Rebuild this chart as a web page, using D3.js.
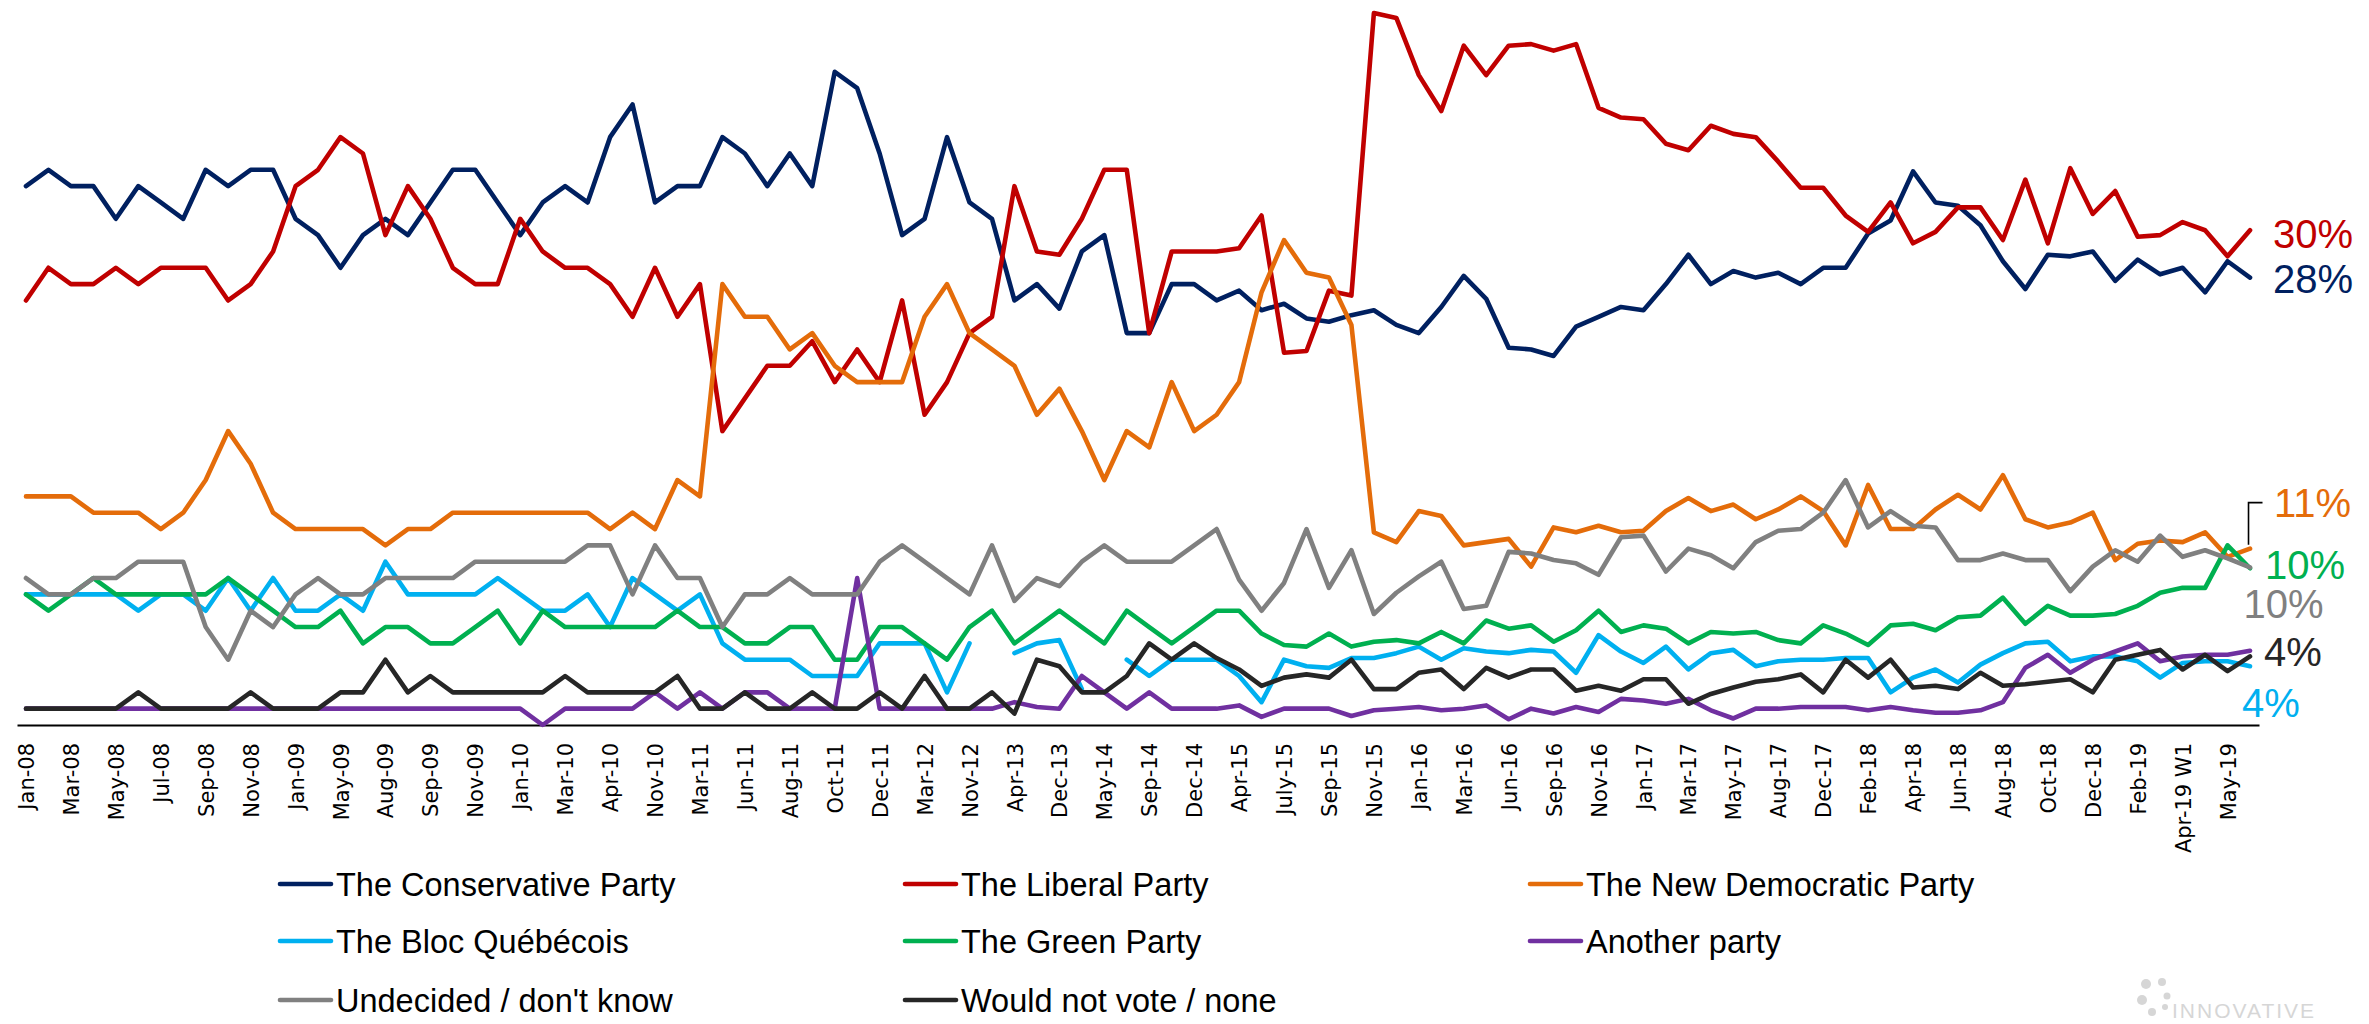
<!DOCTYPE html>
<html>
<head>
<meta charset="utf-8">
<script src="https://cdn.jsdelivr.net/npm/d3@7"></script>
<style>
  html, body { margin: 0; padding: 0; background: #ffffff; }
  svg { display: block; }
</style>
</head>
<body>
<svg id="chart" width="2369" height="1024"></svg>
<script>
// ---------- DATA ----------
const tickLabels = ["Jan-08","Mar-08","May-08","Jul-08","Sep-08","Nov-08","Jan-09","May-09","Aug-09","Sep-09",
  "Nov-09","Jan-10","Mar-10","Apr-10","Nov-10","Mar-11","Jun-11","Aug-11","Oct-11","Dec-11",
  "Mar-12","Nov-12","Apr-13","Dec-13","May-14","Sep-14","Dec-14","Apr-15","July-15","Sep-15",
  "Nov-15","Jan-16","Mar-16","Jun-16","Sep-16","Nov-16","Jan-17","Mar-17","May-17","Aug-17",
  "Dec-17","Feb-18","Apr-18","Jun-18","Aug-18","Oct-18","Dec-18","Feb-19","Apr-19 W1","May-19"];
// 100 survey waves; only every second one carries a visible label
const categories = d3.range(100).map(i => i % 2 === 0 ? tickLabels[i / 2] : "");

const conservative = [33,34,33,33,31,33,32,31,34,33,34,34,31,30,28,30,31,30,32,34,34,32,30,32,33,32,36,38,32,33,
  33,36,35,33,35,33,40,39,35,30,31,36,32,31,26,27,25.5,29,30,24,24,27,27,26,26.6,25.4,25.8,24.9,24.7,25.1,
  25.4,24.5,24,25.6,27.5,26.1,23.1,23,22.6,24.4,25,25.6,25.4,27,28.8,27,27.8,27.4,27.7,27,
  28,28,30.1,30.9,33.9,32,31.8,30.6,28.4,26.7,28.8,28.7,29,27.2,28.5,27.6,28,26.5,28.4,27.4];
const liberal = [26,28,27,27,28,27,28,28,28,26,27,29,33,34,36,35,30,33,31,28,27,27,31,29,28,28,27,25,28,25,
  27,18,20,22,22,23.5,21,23,21,26,19,21,24,25,33,29,28.8,31,34,34,24,29,29,29,29.2,31.2,22.8,22.9,26.6,26.3,
  43.6,43.3,39.8,37.6,41.6,39.8,41.6,41.7,41.3,41.7,37.8,37.2,37.1,35.6,35.2,36.7,36.2,36,34.5,32.9,
  32.9,31.2,30.2,32,29.5,30.2,31.7,31.7,29.7,33.4,29.5,34.1,31.3,32.7,29.9,30,30.8,30.3,28.7,30.3];
const ndp = [14,14,14,13,13,13,12,13,15,18,16,13,12,12,12,12,11,12,12,13,13,13,13,13,13,13,12,13,12,15,
  14,27,25,25,23,24,22,21,21,21,25,27,24,23,22,19,20.6,18,15,18,17,21,18,19,21,26.5,29.7,27.7,27.4,24.5,
  11.8,11.2,13.1,12.8,11,11.2,11.4,9.7,12.1,11.8,12.2,11.8,11.9,13.1,13.9,13.1,13.5,12.6,13.2,14,
  13.1,11,14.7,12,12,13.2,14.1,13.2,15.3,12.6,12.1,12.4,13,10.1,11.1,11.3,11.2,11.8,10.3,10.8];
const bloc = [8,8,8,8,8,7,8,8,7,9,7,9,7,7,8,7,10,8,8,8,8,9,8,7,7,8,6,9,8,7,
  8,5,4,4,4,3,3,3,5,5,5,2,5,null,4.4,5,5.2,2.2,null,4,3,4,4,4,3,1.4,4,3.6,3.5,4.1,
  4.1,4.4,4.8,4,4.7,4.5,4.4,4.6,4.5,3.2,5.5,4.5,3.8,4.8,3.4,4.4,4.6,3.6,3.9,4,
  4,4.1,4.1,2,2.9,3.4,2.6,3.7,4.4,5,5.1,3.9,4.2,4.2,3.9,2.9,3.8,3.9,3.9,3.6];
const green = [8,7,8,9,8,8,8,8,8,9,8,7,6,6,7,5,6,6,5,5,6,7,5,7,6,6,6,6,6,7,
  6,6,5,5,6,6,4,4,6,6,5,4,6,7,5,6,7,6,5,7,6,5,6,7,7,5.6,4.9,4.8,5.6,4.8,
  5.1,5.2,5,5.7,5,6.4,5.9,6.1,5.1,5.8,7,5.7,6.1,5.9,5,5.7,5.6,5.7,5.2,5,
  6.1,5.6,4.9,6.1,6.2,5.8,6.6,6.7,7.8,6.2,7.3,6.7,6.7,6.8,7.3,8.1,8.4,8.4,11,9.6];
const anotherParty = [1,1,1,1,1,1,1,1,1,1,1,1,1,1,1,1,1,1,1,1,1,1,1,0,1,1,1,1,2,1,
  2,1,2,2,1,1,1,9,1,1,1,1,1,1,1.4,1.1,1,3,2,1,2,1,1,1,1.2,0.5,1,1,1,0.55,
  0.9,1,1.1,0.9,1,1.2,0.35,1,0.7,1.1,0.8,1.6,1.5,1.3,1.6,0.9,0.4,1,1,1.1,
  1.1,1.1,0.9,1.1,0.9,0.75,0.75,0.9,1.4,3.5,4.3,3.2,4,4.5,5,3.9,4.2,4.3,4.3,4.55];
const undecided = [9,8,8,9,9,10,10,10,6,4,7,6,8,9,8,8,9,9,9,9,10,10,10,10,10,11,11,8,11,9,
  9,6,8,8,9,8,8,8,10,11,10,9,8,11,7.6,9,8.5,10,11,10,10,10,11,12,8.9,7,8.7,12,8.4,10.7,
  6.8,8.1,9.1,10,7.1,7.3,10.6,10.5,10.1,9.9,9.2,11.5,11.6,9.4,10.8,10.4,9.6,11.2,11.9,12,
  13,15,12.1,13.1,12.2,12.1,10.1,10.1,10.5,10.1,10.1,8.2,9.7,10.7,10,11.6,10.3,10.7,10.2,9.65];
const wouldNotVote = [1,1,1,1,1,2,1,1,1,1,2,1,1,1,2,2,4,2,3,2,2,2,2,2,3,2,2,2,2,3,
  1,1,2,1,1,2,1,1,2,1,3,1,1,2,0.7,4,3.6,2,2,3,5,4,5,4.1,3.4,2.4,2.9,3.1,2.9,4,
  2.2,2.2,3.2,3.4,2.2,3.5,2.9,3.4,3.4,2.1,2.4,2.1,2.8,2.8,1.3,1.9,2.3,2.65,2.8,3.1,
  2,4,2.9,4,2.3,2.4,2.2,3.2,2.4,2.5,2.65,2.8,2,4,4.3,4.6,3.4,4.3,3.3,4.2];

const seriesNames = ["The Conservative Party","The Liberal Party","The New Democratic Party",
  "The Bloc Québécois","The Green Party","Another party","Undecided / don't know","Would not vote / none"];
const seriesValues = [conservative, liberal, ndp, bloc, green, anotherParty, undecided, wouldNotVote];
const seriesColors = ["#002060","#C00000","#E46C0A","#00B0F0","#00B050","#7030A0","#808080","#262626"];
const endLabels = ["28%","30%","11%","4%","10%",null,"10%","4%"];

// ---------- LAYOUT ----------
const svg = d3.select("#chart");
const axisY = 725;
const x = d3.scalePoint().domain(d3.range(categories.length)).range([17, 2259]).padding(0.4);
const y = d3.scaleLinear().domain([0, 44.4]).range([axisY, 0]);

// Axis
const axis = d3.axisBottom(x)
  .tickValues(d3.range(0, categories.length, 2))
  .tickFormat(i => categories[i])
  .tickSize(0).tickSizeOuter(0);
const gAxis = svg.append("g").attr("transform", `translate(0,${axisY})`).call(axis);
gAxis.select(".domain").attr("stroke", "#000").attr("stroke-width", 2.2);
gAxis.selectAll(".tick text")
  .attr("transform", "rotate(-90)")
  .attr("x", -18).attr("y", 0).attr("dy", "0.36em")
  .attr("text-anchor", "end")
  .style("font-family", "'DejaVu Sans', sans-serif")
  .style("font-size", "21px")
  .attr("fill", "#000");

// Lines
const line = d3.line()
  .defined(d => d.v !== null && d.v !== undefined)
  .x(d => x(d.i)).y(d => y(d.v));

seriesValues.forEach((vals, s) => {
  svg.append("path")
    .datum(vals.map((v, i) => ({ i, v })))
    .attr("fill", "none")
    .attr("stroke", seriesColors[s])
    .attr("stroke-width", 4.6)
    .attr("stroke-linejoin", "round")
    .attr("stroke-linecap", "round")
    .attr("d", line);
});

// End labels (layout offsets relative to each series' last point)
const lastI = categories.length - 1;
const labelLayout = [
  { dx: 23, dy: 15 },    // Conservative
  { dx: 23, dy: 17.5 },  // Liberal
  { dx: 24, dy: -31.5 }, // NDP (with leader)
  { dx: -8, dy: 51 },    // Bloc
  { dx: 15, dy: 11 },    // Green
  null,
  { dx: -6.5, dy: 50.5 },// Undecided
  { dx: 14, dy: 9.6 }    // Would not vote
];
seriesValues.forEach((vals, s) => {
  if (!endLabels[s]) return;
  const lx = x(lastI), ly = y(vals[lastI]);
  const o = labelLayout[s];
  svg.append("text")
    .attr("x", lx + o.dx).attr("y", ly + o.dy)
    .style("font-family", "'Liberation Sans', Arial, sans-serif")
    .style("font-size", "40px")
    .attr("fill", seriesColors[s])
    .text(endLabels[s]);
});
// leader line for NDP label
{
  const lx = x(lastI) - 1.5, ly = y(ndp[lastI]);
  svg.append("path")
    .attr("d", `M${lx},${ly - 4}V${ly - 46}H${lx + 14}`)
    .attr("fill", "none").attr("stroke", "#000").attr("stroke-width", 1.6);
}

// Legend
const legendCols = [278, 903, 1528];
const legendRows = [884, 941, 1000];
seriesNames.forEach((name, s) => {
  const col = s % 3, row = Math.floor(s / 3);
  const g = svg.append("g").attr("transform", `translate(${legendCols[col]},${legendRows[row]})`);
  g.append("line").attr("x1", 2).attr("x2", 53).attr("y1", 0).attr("y2", 0)
    .attr("stroke", seriesColors[s]).attr("stroke-width", 4.6).attr("stroke-linecap", "round");
  g.append("text").attr("x", 58).attr("y", 11.5)
    .style("font-family", "'Liberation Sans', Arial, sans-serif")
    .style("font-size", "32.5px")
    .attr("fill", "#000")
    .text(name);
});

// Faint watermark logo (bottom right)
const wm = svg.append("g").attr("fill", "#d6d6d6");
[[2146,984,5],[2162,982,4],[2142,1000,5],[2167,996,3.5],[2165,1007,3],[2152,1012,4]].forEach(c =>
  wm.append("circle").attr("cx", c[0]).attr("cy", c[1]).attr("r", c[2]));
wm.append("text").attr("x", 2172).attr("y", 1018)
  .style("font-family", "'Liberation Sans', Arial, sans-serif")
  .style("font-size", "21px").style("letter-spacing", "2px")
  .text("INNOVATIVE");
</script>
</body>
</html>
